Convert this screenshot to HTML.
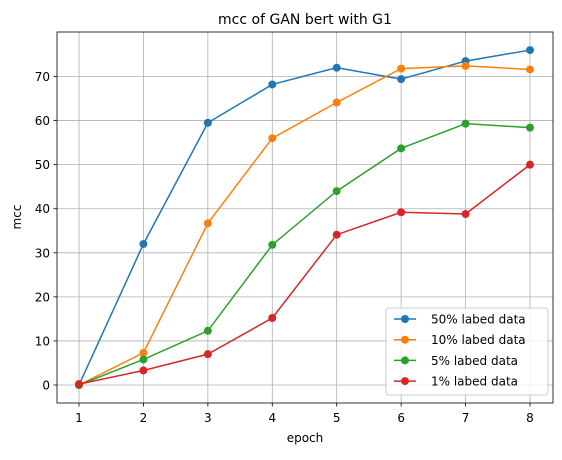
<!DOCTYPE html>
<html><head><meta charset="utf-8"><style>
body{margin:0;background:#fff;font-family:"Liberation Sans","DejaVu Sans",sans-serif}
svg text{font-family:"DejaVu Sans","Liberation Sans",sans-serif}
</style></head><body>
<svg id="c" width="562" height="455"></svg>
<script>
const epochs=[1,2,3,4,5,6,7,8];
const s50=[0,32,59.5,68.2,72,69.4,73.5,76];
const s10=[0,7.3,36.7,56,64.1,71.8,72.4,71.6];
const s5=[0,5.8,12.3,31.8,44,53.7,59.3,58.4];
const s1=[0.2,3.3,7,15.2,34.1,39.2,38.8,50];
const seriesNames=["50% labed data","10% labed data","5% labed data","1% labed data"];
const yTicks=[0,10,20,30,40,50,60,70];
const colors=["#1f77b4","#ff7f0e","#2ca02c","#d62728"];
const L=57,R=553,T=32,B=403;
const X=v=>79+(v-1)*(530-79)/7;
const Y=v=>385-v*4.407;
const svg=document.getElementById('c');
const NS='http://www.w3.org/2000/svg';
function el(t,a,txt){const e=document.createElementNS(NS,t);for(const k in a)e.setAttribute(k,a[k]);if(txt!==undefined)e.textContent=txt;svg.appendChild(e);return e;}
epochs.forEach(v=>{
 const g=el('line',{x1:X(v),x2:X(v),y1:T,y2:B,stroke:'#b0b0b0','stroke-width':0.8});
 
 
 el('line',{x1:X(v),x2:X(v),y1:B,y2:B+3.5,stroke:'#000','stroke-width':0.8});
 const t=el('text',{x:X(v),y:B+19,'font-size':12,'text-anchor':'middle'},v);
 
 
});
yTicks.forEach(v=>{
 const g=el('line',{x1:L,x2:R,y1:Y(v),y2:Y(v),stroke:'#b0b0b0','stroke-width':0.8});
 
 
 el('line',{x1:L-3.5,x2:L,y1:Y(v),y2:Y(v),stroke:'#000','stroke-width':0.8});
 const t=el('text',{x:L-7,y:Y(v)+4.5,'font-size':12,'text-anchor':'end'},v);
 
 
});
[s50,s10,s5,s1].forEach((s,i)=>{
 const p=el('polyline',{points:s.map((v,j)=>X(epochs[j])+','+Y(v)).join(' '),fill:'none',stroke:colors[i],'stroke-width':1.5});
 
 
 s.forEach((v,j)=>{
  const c=el('circle',{cx:X(epochs[j]),cy:Y(v),r:4,fill:colors[i]});
  
  
 });
});
const fr=el('rect',{x:L,y:T,width:R-L,height:B-T,fill:'none',stroke:'#000','stroke-width':0.8});


const ti=el('text',{x:(L+R)/2,y:24,'font-size':14,'text-anchor':'middle'},'mcc of GAN bert with G1');


const xt=el('text',{x:(L+R)/2,y:442,'font-size':12,'text-anchor':'middle'},'epoch');


const yt=el('text',{x:21,y:217,'font-size':12,'text-anchor':'middle',transform:'rotate(-90 21 217)'},'mcc');


const lg=el('rect',{x:386,y:308,width:162,height:87,rx:3,fill:'#fff','fill-opacity':0.8,stroke:'#ccc'});


seriesNames.forEach((n,i)=>{
 const y=319+i*20.7;
 el('line',{x1:394,x2:416,y1:y,y2:y,stroke:colors[i],'stroke-width':1.5});
 el('circle',{cx:405,cy:y,r:4,fill:colors[i]});
 const t=el('text',{x:431,y:y+4.5,'font-size':12},n);
 
 
});
</script>
</body></html>
